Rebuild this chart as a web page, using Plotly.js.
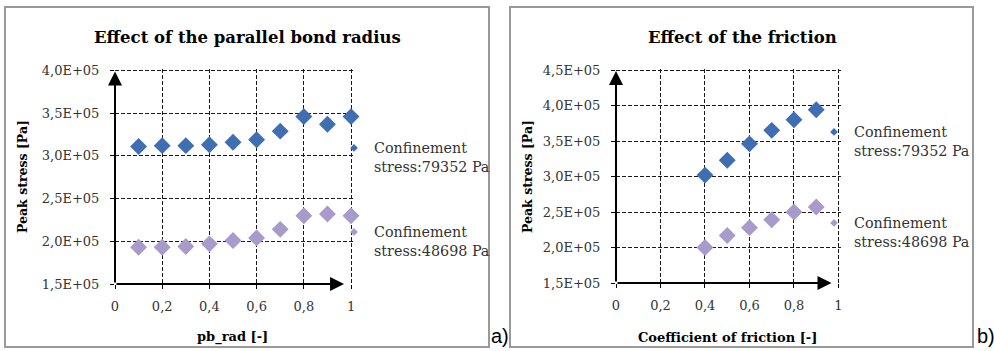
<!DOCTYPE html>
<html>
<head>
<meta charset="utf-8">
<script src="https://cdn.plot.ly/plotly-3.0.1.min.js"></script>
<style>
  html, body { margin: 0; padding: 0; background: #ffffff; }
  #chart { width: 994px; height: 351px; }
</style>
</head>
<body>
<div id="chart"></div>
<script>
// Panel a) peak stress against parallel bond radius
const pbRad = [0.1, 0.2, 0.3, 0.4, 0.5, 0.6, 0.7, 0.8, 0.9, 1.0];
const pbPeakHigh = [3.11e5, 3.12e5, 3.12e5, 3.13e5, 3.16e5, 3.19e5, 3.29e5, 3.46e5, 3.37e5, 3.46e5];
const pbPeakLow  = [1.93e5, 1.93e5, 1.94e5, 1.97e5, 2.01e5, 2.04e5, 2.14e5, 2.30e5, 2.32e5, 2.30e5];

// Panel b) peak stress against coefficient of friction
const friction = [0.4, 0.5, 0.6, 0.7, 0.8, 0.9];
const fricPeakHigh = [3.02e5, 3.23e5, 3.46e5, 3.65e5, 3.80e5, 3.94e5];
const fricPeakLow  = [2.00e5, 2.17e5, 2.28e5, 2.39e5, 2.50e5, 2.57e5];

// Series names
const seriesHigh = 'Confinement<br>stress:79352 Pa';
const seriesLow  = 'Confinement<br>stress:48698 Pa';

// Tick values and labels
const xTickVals = [0, 0.2, 0.4, 0.6, 0.8, 1];
const xTickText = ['0', '0,2', '0,4', '0,6', '0,8', '1'];
const yTickValsA = [1.5e5, 2.0e5, 2.5e5, 3.0e5, 3.5e5, 4.0e5];
const yTickTextA = ['1,5E+05', '2,0E+05', '2,5E+05', '3,0E+05', '3,5E+05', '4,0E+05'];
const yTickValsB = [1.5e5, 2.0e5, 2.5e5, 3.0e5, 3.5e5, 4.0e5, 4.5e5];
const yTickTextB = ['1,5E+05', '2,0E+05', '2,5E+05', '3,0E+05', '3,5E+05', '4,0E+05', '4,5E+05'];

const W = 994, H = 351;
const px = v => v / W;
const py = v => 1 - v / H;

const BLUE = '#3f6eb2';
const LAVENDER = '#a89bcb';
const SERIF = 'DejaVu Serif, Liberation Serif, serif';
const TEXT = '#333333';

function points(x, y, color, xa, ya) {
  return {
    x: x, y: y, type: 'scatter', mode: 'markers',
    xaxis: xa, yaxis: ya, showlegend: false, cliponaxis: false,
    marker: { symbol: 'diamond', size: 13, color: color },
    hoverinfo: 'x+y'
  };
}
function legendEntry(name, color, xa, ya, legendId) {
  return {
    x: [null], y: [null], type: 'scatter', mode: 'markers',
    xaxis: xa, yaxis: ya, name: '\u00a0<br>' + name, legend: legendId,
    marker: { symbol: 'diamond', size: 6, color: color }
  };
}

const data = [
  points(pbRad, pbPeakHigh, BLUE, 'x', 'y'),
  points(pbRad, pbPeakLow, LAVENDER, 'x', 'y'),
  points(friction, fricPeakHigh, BLUE, 'x2', 'y2'),
  points(friction, fricPeakLow, LAVENDER, 'x2', 'y2'),
  legendEntry(seriesHigh, BLUE, 'x', 'y', 'legend'),
  legendEntry(seriesLow, LAVENDER, 'x', 'y', 'legend2'),
  legendEntry(seriesHigh, BLUE, 'x2', 'y2', 'legend3'),
  legendEntry(seriesLow, LAVENDER, 'x2', 'y2', 'legend4')
];

// The ranges run a hair past the last tick so that its grid line is kept
const GRID = { showgrid: true, gridcolor: '#1a1a1a', gridwidth: 1, griddash: '4px,2px' };

function xAxis(domain, anchor) {
  return Object.assign({
    domain: domain, anchor: anchor, range: [0, 1.01],
    tickvals: xTickVals, ticktext: xTickText,
    ticks: 'outside', ticklen: 4, tickwidth: 1, tickcolor: '#000',
    ticklabelstandoff: 6,
    zeroline: false, showline: false, fixedrange: true,
    tickfont: { family: SERIF, size: 13, color: TEXT }
  }, GRID);
}
function yAxis(domain, anchor, range, vals, text) {
  return Object.assign({
    domain: domain, anchor: anchor, range: range,
    tickvals: vals, ticktext: text,
    ticks: 'outside', ticklen: 4, tickwidth: 1, tickcolor: '#000',
    ticklabelstandoff: 8,
    zeroline: false, showline: false, fixedrange: true,
    tickfont: { family: SERIF, size: 13, color: TEXT }
  }, GRID);
}
function legendBox(xLeft, yMid) {
  return {
    x: px(xLeft), xanchor: 'left', y: py(yMid), yanchor: 'middle',
    bgcolor: 'rgba(0,0,0,0)', borderwidth: 0,
    font: { family: SERIF, size: 14.3, color: TEXT }
  };
}
function axisArrow(xa, ya, tipX, tipY, tailX, tailY, standoff) {
  return {
    xref: xa, yref: ya, axref: xa, ayref: ya,
    x: tipX, y: tipY, ax: tailX, ay: tailY, text: '',
    showarrow: true, arrowhead: 2, arrowsize: 1.4, arrowwidth: 2,
    arrowcolor: '#000', standoff: standoff
  };
}
function label(text, x, y, opts) {
  return Object.assign({
    xref: 'paper', yref: 'paper', x: px(x), y: py(y),
    xanchor: 'center', yanchor: 'middle', showarrow: false, text: text,
    font: { family: SERIF, size: 13, color: '#000' }
  }, opts || {});
}

const layout = {
  width: W, height: H, autosize: false,
  margin: { l: 0, r: 0, t: 0, b: 0, pad: 0 },
  paper_bgcolor: '#ffffff', plot_bgcolor: 'rgba(0,0,0,0)',
  showlegend: true,
  xaxis: xAxis([px(115), px(353.4)], 'y'),
  yaxis: yAxis([py(284), py(68.8)], 'x', [1.5e5, 4.02e5], yTickValsA, yTickTextA),
  xaxis2: xAxis([px(616), px(840.7)], 'y2'),
  yaxis2: yAxis([py(283), py(68.6)], 'x2', [1.5e5, 4.52e5], yTickValsB, yTickTextB),
  legend: legendBox(334, 148),
  legend2: legendBox(334, 232),
  legend3: legendBox(814, 132),
  legend4: legendBox(814, 223),
  shapes: [
    { type: 'rect', xref: 'paper', yref: 'paper', x0: px(5), x1: px(489), y0: py(347), y1: py(7),
      line: { color: '#999999', width: 2 } },
    { type: 'rect', xref: 'paper', yref: 'paper', x0: px(510), x1: px(973), y0: py(347), y1: py(7),
      line: { color: '#999999', width: 2 } }
  ],
  annotations: [
    axisArrow('x', 'y', 0, 4.0e5, 0, 1.5e5, 1),
    axisArrow('x', 'y', 1, 1.5e5, 0, 1.5e5, 7),
    axisArrow('x2', 'y2', 0, 4.5e5, 0, 1.5e5, 1),
    axisArrow('x2', 'y2', 1, 1.5e5, 0, 1.5e5, 7),
    label('<b>Effect of the parallel bond radius</b>', 247, 38, { font: { family: SERIF, size: 16.5, color: '#000' } }),
    label('<b>Effect of the friction</b>', 742, 38, { font: { family: SERIF, size: 16.5, color: '#000' } }),
    label('<b>Peak stress [Pa]</b>', 22, 177, { textangle: -90, font: { family: SERIF, size: 12.5, color: '#000' } }),
    label('<b>Peak stress [Pa]</b>', 527, 177, { textangle: -90, font: { family: SERIF, size: 12.5, color: '#000' } }),
    label('<b>pb_rad [-]</b>', 232, 337, { font: { family: SERIF, size: 13, color: '#000' } }),
    label('<b>Coefficient of friction [-]</b>', 727, 337, { font: { family: SERIF, size: 13, color: '#000' } }),
    label('a)', 489, 336, { xanchor: 'left', font: { family: 'Liberation Sans, Arial, sans-serif', size: 20, color: '#000' } }),
    label('b)', 975, 336, { xanchor: 'left', font: { family: 'Liberation Sans, Arial, sans-serif', size: 20, color: '#000' } })
  ]
};

Plotly.newPlot('chart', data, layout, { displayModeBar: false, staticPlot: true });
</script>
</body>
</html>
